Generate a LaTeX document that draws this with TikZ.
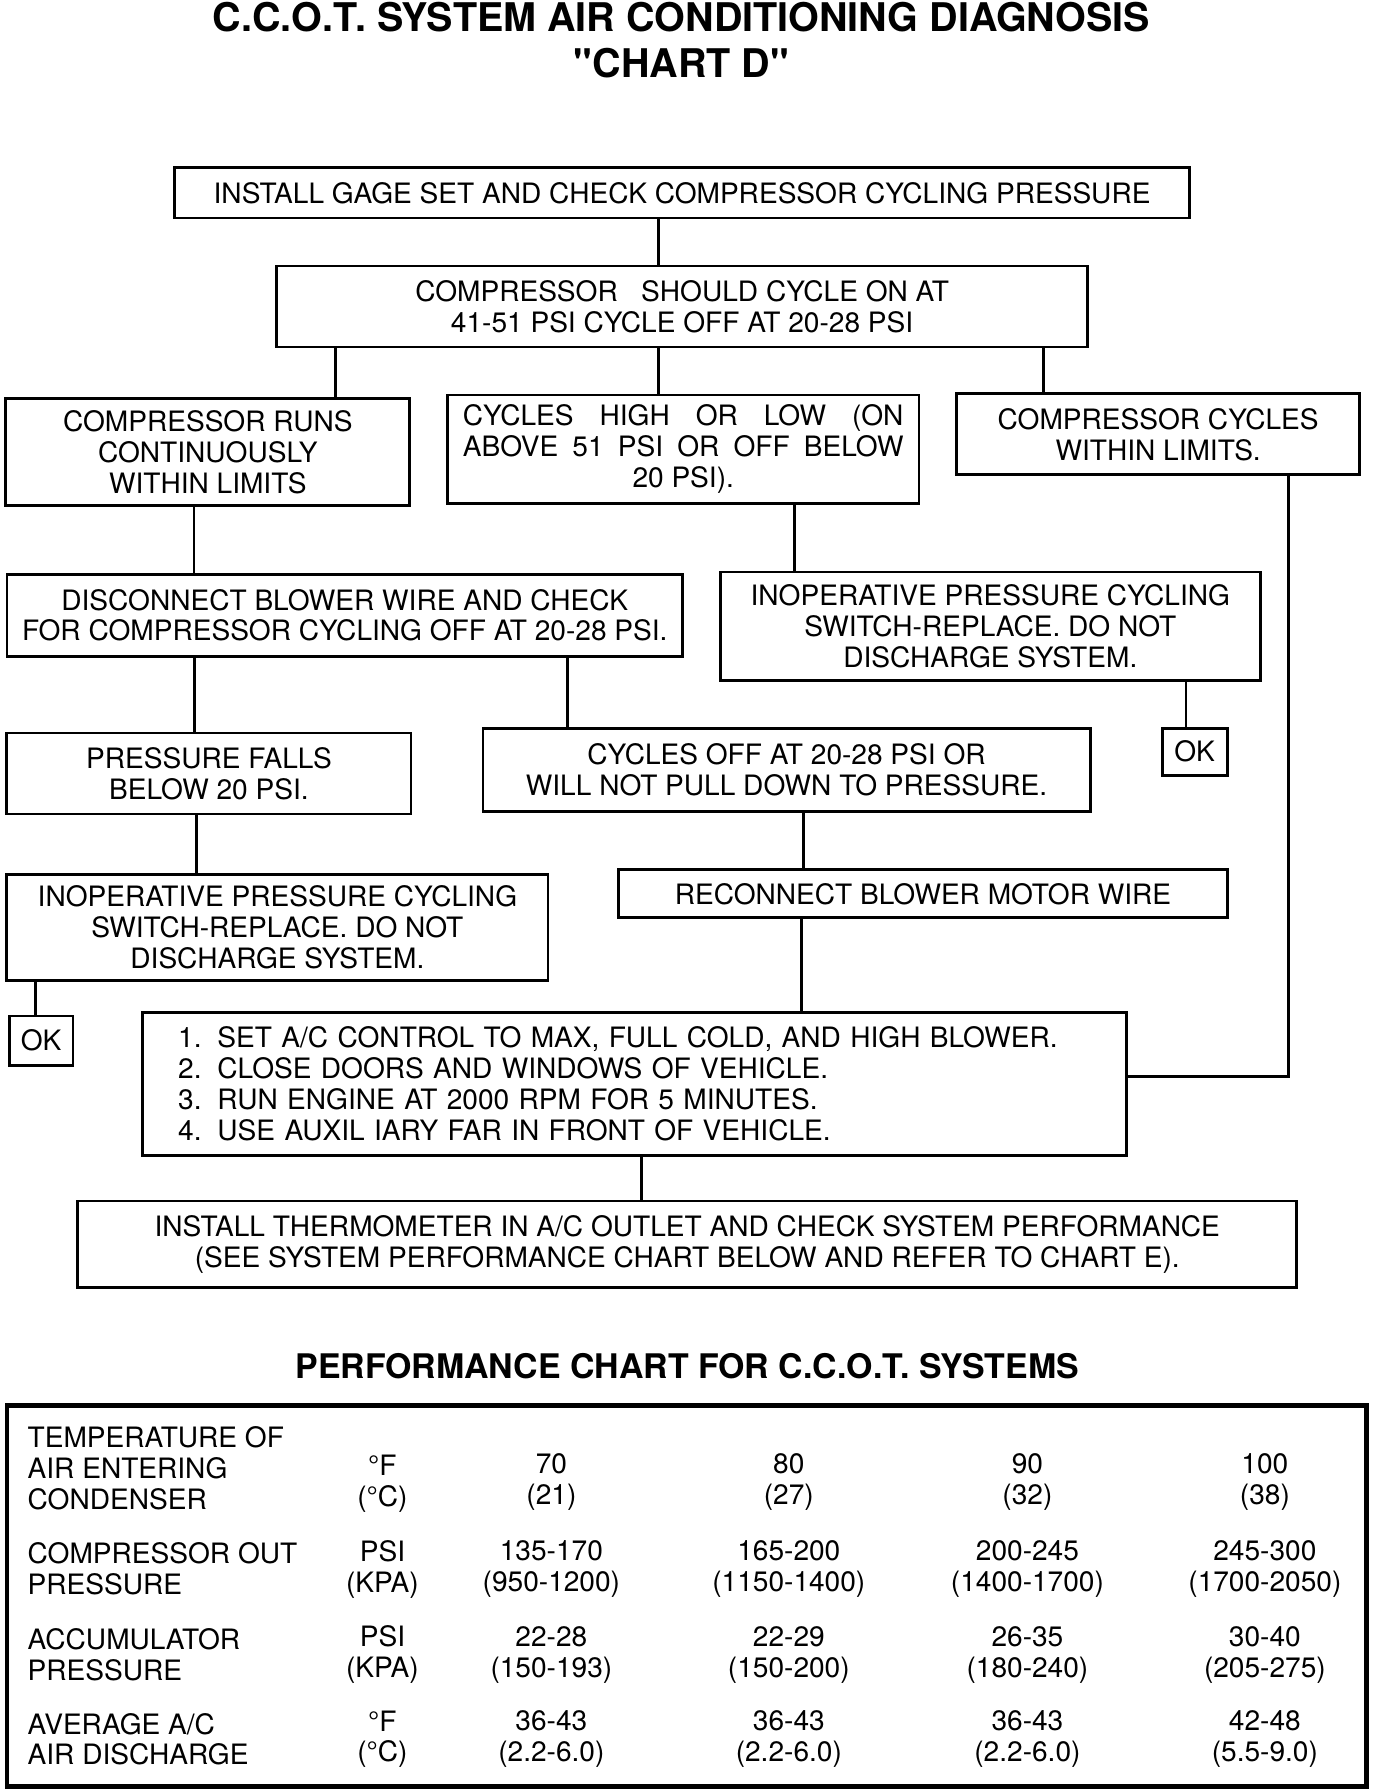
\documentclass[tikz,border=0pt]{standalone}
\usepackage{fontspec}
\setmainfont{TeX Gyre Heros}
\newfontfamily\titlefont{TeX Gyre Heros}
\usepackage{tikz}
\usetikzlibrary{positioning,calc}

\newcommand{\boxfont}{\fontsize{14}{15.4}\selectfont}
\newcommand{\numitem}[1]{\makebox[1.4em][l]{#1}}

\begin{document}
\begin{tikzpicture}[x=0.02cm,y=-0.02cm,line width=1.4pt,
	box/.style={rectangle,draw=black,align=center,inner sep=0pt,font=\boxfont},
	cell/.style={align=center,inner sep=0pt,font=\boxfont}]
	\useasboundingbox (0,0) rectangle (1219,1568);
	
	\node[align=center,font=\titlefont\bfseries\fontsize{19.7}{22.8}\selectfont] (title) at(597,35) {C.C.O.T. SYSTEM AIR CONDITIONING DIAGNOSIS\\"CHART D"};
	
	\node[box,minimum width=17.78cm,minimum height=0.88cm] (install) at(597.5,169) {INSTALL GAGE SET AND CHECK COMPRESSOR CYCLING PRESSURE};
	\node[box,minimum width=14.22cm,minimum height=1.42cm] (cycleon) at(597.5,268.5) {COMPRESSOR\ \ \ SHOULD CYCLE ON AT\\41-51 PSI CYCLE OFF AT 20-28 PSI};
	
	\node[box,minimum width=7.08cm,minimum height=1.88cm] (runs) at(182,396) {COMPRESSOR RUNS\\CONTINUOUSLY\\WITHIN LIMITS};
	\node[box,minimum width=8.26cm,minimum height=1.90cm] (highlow) at(598.5,393.5) {\makebox[7.72cm][s]{CYCLES HIGH OR LOW (ON}\\\makebox[7.72cm][s]{ABOVE 51 PSI OR OFF BELOW}\\20 PSI).};
	\node[box,minimum width=7.06cm,minimum height=1.42cm] (within) at(1014.5,380.5) {COMPRESSOR CYCLES\\WITHIN LIMITS.};
	
	\node[box,minimum width=11.84cm,minimum height=1.44cm] (disconnect) at(302,539) {DISCONNECT BLOWER WIRE AND CHECK\\FOR COMPRESSOR CYCLING OFF AT 20-28 PSI.};
	\node[box,minimum width=9.46cm,minimum height=1.90cm] (inopa) at(867.5,548.5) {INOPERATIVE PRESSURE CYCLING\\SWITCH-REPLACE. DO NOT\\DISCHARGE SYSTEM.};
	\node[box,minimum width=1.14cm,minimum height=0.82cm] (oka) at(1046.5,658.5) {OK};
	
	\node[box,minimum width=7.08cm,minimum height=1.42cm] (falls) at(183,677.5) {PRESSURE FALLS\\BELOW 20 PSI.};
	\node[box,minimum width=10.64cm,minimum height=1.46cm] (cyclesoff) at(689,674.5) {CYCLES OFF AT 20-28 PSI OR\\WILL NOT PULL DOWN TO PRESSURE.};
	
	\node[box,minimum width=9.48cm,minimum height=1.86cm] (inopb) at(243,812.5) {INOPERATIVE PRESSURE CYCLING\\SWITCH-REPLACE. DO NOT\\DISCHARGE SYSTEM.};
	\node[box,minimum width=1.12cm,minimum height=0.86cm] (okb) at(36,911.5) {OK};
	\node[box,minimum width=10.66cm,minimum height=0.84cm] (reconnect) at(808.5,783) {RECONNECT BLOWER MOTOR WIRE};
	
	\node[box,align=left,text width=16cm,minimum width=17.24cm,minimum height=2.50cm] (steps) at(556,949.5) {\numitem{1.}SET A/C CONTROL TO MAX, FULL COLD, AND HIGH BLOWER.\\\numitem{2.}CLOSE DOORS AND WINDOWS OF VEHICLE.\\\numitem{3.}RUN ENGINE AT 2000 RPM FOR 5 MINUTES.\\\numitem{4.}USE AUXIL IARY FAR IN FRONT OF VEHICLE.};
	
	\node[box,minimum width=21.36cm,minimum height=1.52cm] (thermo) at(602,1090) {INSTALL THERMOMETER IN A/C OUTLET AND CHECK SYSTEM PERFORMANCE\\(SEE SYSTEM PERFORMANCE CHART BELOW AND REFER TO CHART E).};
	
	
	\draw ([xshift=-0.41cm]install.south) -- ([xshift=-0.41cm]install.south |- cycleon.north);
	
	\draw ([xshift=-6.07cm]cycleon.south) -- ([xshift=-6.07cm]cycleon.south |- runs.north);
	\draw ([xshift=-0.41cm]cycleon.south) -- ([xshift=-0.41cm]cycleon.south |- highlow.north);
	\draw ([xshift=6.33cm]cycleon.south) -- ([xshift=6.33cm]cycleon.south |- within.north);
	
	\draw ([xshift=-0.24cm]runs.south) -- ([xshift=-0.24cm]runs.south |- disconnect.north);
	\draw ([xshift=1.95cm]highlow.south) -- ([xshift=1.95cm]highlow.south |- inopa.north);
	\draw ([xshift=3.43cm]inopa.south) -- ([xshift=3.43cm]inopa.south |- oka.north);
	
	\draw ([xshift=-2.64cm]disconnect.south) -- ([xshift=-2.64cm]disconnect.south |- falls.north);
	\draw ([xshift=3.9cm]disconnect.south) -- ([xshift=3.9cm]disconnect.south |- cyclesoff.north);
	
	\draw ([xshift=-0.22cm]falls.south) -- ([xshift=-0.22cm]falls.south |- inopb.north);
	\draw ([xshift=0.3cm]cyclesoff.south) -- ([xshift=0.3cm]cyclesoff.south |- reconnect.north);
	\draw ([xshift=-4.24cm]inopb.south) -- ([xshift=-4.24cm]inopb.south |- okb.north);
	\draw ([xshift=-2.13cm]reconnect.south) -- ([xshift=-2.13cm]reconnect.south |- steps.north);
	
	\draw ([xshift=2.29cm]within.south) |- ([yshift=0.13cm]steps.east);
	\draw ([xshift=0.12cm]steps.south) -- ([xshift=0.12cm]steps.south |- thermo.north);
	
	
	\node[font=\titlefont\bfseries\fontsize{16.9}{20}\selectfont] (perftitle) at(602,1197) {PERFORMANCE CHART FOR C.C.O.T. SYSTEMS};
	\node[rectangle,draw=black,line width=2.2pt,minimum width=23.82cm,minimum height=6.68cm] (chart) at(601.5,1398) {};
	
	\node[cell,anchor=west,align=left] (temp) at(23,1286) {TEMPERATURE OF\\AIR ENTERING\\CONDENSER};
	\node[cell,anchor=west,align=left] (compout) at(23,1374.5) {COMPRESSOR OUT\\PRESSURE};
	\node[cell,anchor=west,align=left] (accum) at(23,1449.5) {ACCUMULATOR\\PRESSURE};
	\node[cell,anchor=west,align=left] (avgair) at(23,1523.5) {AVERAGE A/C\\AIR DISCHARGE};
	
	\node[cell] (tempunit) at(335,1299.5) {°F\\(°C)};
	\node[cell] (compunit) at(335,1374.5) {PSI\\(KPA)};
	\node[cell] (accumunit) at(335,1449.5) {PSI\\(KPA)};
	\node[cell] (avgunit) at(335,1523.5) {°F\\(°C)};
	
	% value columns
	\foreach \x/\val [count=\i] in {483/{70\\(21)},691/{80\\(27)},900/{90\\(32)},1108/{100\\(38)}}
		\node[cell] (temp\i) at(\x,1298.5) {\val};
	\foreach \x/\val [count=\i] in {483/{135-170\\(950-1200)},691/{165-200\\(1150-1400)},900/{200-245\\(1400-1700)},1108/{245-300\\(1700-2050)}}
		\node[cell] (comp\i) at(\x,1374.5) {\val};
	\foreach \x/\val [count=\i] in {483/{22-28\\(150-193)},691/{22-29\\(150-200)},900/{26-35\\(180-240)},1108/{30-40\\(205-275)}}
		\node[cell] (accum\i) at(\x,1449.5) {\val};
	\foreach \x/\val [count=\i] in {483/{36-43\\(2.2-6.0)},691/{36-43\\(2.2-6.0)},900/{36-43\\(2.2-6.0)},1108/{42-48\\(5.5-9.0)}}
		\node[cell] (avg\i) at(\x,1523.5) {\val};
	
\end{tikzpicture}
\end{document}
